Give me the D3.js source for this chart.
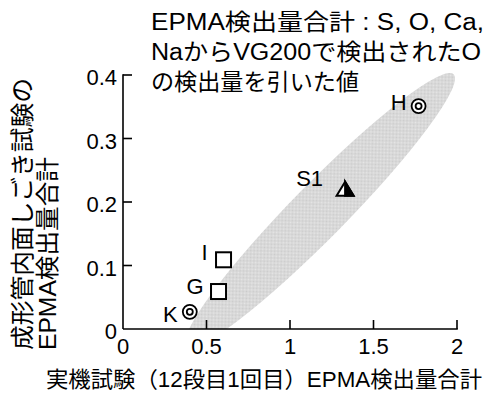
<!DOCTYPE html>
<html>
<head>
<meta charset="utf-8">
<script src="https://cdn.jsdelivr.net/npm/d3@7"></script>
<style>
  html, body { margin: 0; padding: 0; background: #fff; }
  svg { display: block; }
  text { font-family: "Liberation Sans", Arial, "Noto Sans CJK JP", sans-serif; fill: #000; }
</style>
</head>
<body>
<svg id="chart" width="487" height="396"></svg>
<script>
// Sample labels and their EPMA totals
const samples = ["K", "G", "I", "S1", "H"];
const xValues = [0.40, 0.572, 0.602, 1.33, 1.77];
const yValues = [0.027, 0.059, 0.109, 0.220, 0.351];
const markerTypes = ["dcircle", "square", "square", "halftri", "dcircle"];

// Axis ticks
const xTicks = [0, 0.5, 1, 1.5, 2];
const yTicks = [0, 0.1, 0.2, 0.3, 0.4];
const xTickLabels = ["0", "0.5", "1", "1.5", "2"];
const yTickLabels = ["0", "0.1", "0.2", "0.3", "0.4"];

// Correlation band: centre and upper tip of the ellipse (data units)
const bandCentre = [1.18, 0.187];
const bandTip = [1.98, 0.401];

// Texts
const noteLines = ["EPMA検出量合計 : S, O, Ca,", "NaからVG200で検出されたO", "の検出量を引いた値"];
const xTitle = "実機試験（12段目1回目）EPMA検出量合計";
const yTitleLines = ["成形管内面しごき試験の", "EPMA検出量合計"];

const svg = d3.select("#chart");
const plot = { left: 123, right: 457, top: 75, bottom: 329 };

const x = d3.scaleLinear().domain([0, 2]).range([plot.left, plot.right]);
const y = d3.scaleLinear().domain([0, 0.4]).range([plot.bottom, plot.top]);

// Dithered grey fill for the band
const defs = svg.append("defs");
const pat = defs.append("pattern").attr("id", "dither")
  .attr("width", 4).attr("height", 4).attr("patternUnits", "userSpaceOnUse");
pat.append("rect").attr("width", 4).attr("height", 4).attr("fill", "#e6e6e6");
[[0,0],[2,0],[1,1],[3,1],[0,2],[2,2],[1,3],[3,3]].forEach(([px, py]) => {
  pat.append("rect").attr("x", px).attr("y", py).attr("width", 1).attr("height", 1).attr("fill", "#cbcbcb");
});
defs.append("clipPath").attr("id", "plotClip")
  .append("rect").attr("x", plot.left).attr("y", 0)
  .attr("width", plot.right - plot.left + 30).attr("height", plot.bottom);

// Ellipse band
const cx = x(bandCentre[0]), cy = y(bandCentre[1]);
const tx = x(bandTip[0]), ty = y(bandTip[1]);
const semiMajor = Math.hypot(tx - cx, ty - cy);
const angle = Math.atan2(ty - cy, tx - cx) * 180 / Math.PI;
svg.append("g").attr("clip-path", "url(#plotClip)")
  .append("ellipse")
  .attr("cx", 0).attr("cy", 0)
  .attr("rx", semiMajor).attr("ry", 27)
  .attr("transform", `translate(${cx},${cy}) rotate(${angle})`)
  .attr("fill", "url(#dither)");

// Axes with inward ticks
const axisColor = "#000";
svg.append("line").attr("x1", plot.left).attr("x2", plot.right + 0.8)
  .attr("y1", plot.bottom).attr("y2", plot.bottom)
  .attr("stroke", axisColor).attr("stroke-width", 1.6);
svg.append("line").attr("x1", plot.left).attr("x2", plot.left)
  .attr("y1", plot.top - 0.8).attr("y2", plot.bottom)
  .attr("stroke", axisColor).attr("stroke-width", 1.6);

svg.append("g").selectAll("line").data(xTicks.filter(d => d > 0)).join("line")
  .attr("x1", d => x(d)).attr("x2", d => x(d))
  .attr("y1", plot.bottom).attr("y2", plot.bottom - 9)
  .attr("stroke", axisColor).attr("stroke-width", 1.6);
svg.append("g").selectAll("line").data(yTicks.filter(d => d > 0)).join("line")
  .attr("x1", plot.left).attr("x2", plot.left + 9)
  .attr("y1", d => y(d)).attr("y2", d => y(d))
  .attr("stroke", axisColor).attr("stroke-width", 1.6);

svg.append("g").selectAll("text").data(xTicks).join("text")
  .attr("x", d => x(d)).attr("y", plot.bottom + 25)
  .attr("text-anchor", "middle").attr("font-size", 22)
  .text((d, i) => xTickLabels[i]);
svg.append("g").selectAll("text").data(yTicks).join("text")
  .attr("x", plot.left - 6).attr("y", d => y(d) + 10)
  .attr("text-anchor", "end").attr("font-size", 22)
  .text((d, i) => yTickLabels[i]);

// Axis titles
svg.append("text").attr("x", 46).attr("y", 387)
  .attr("font-size", 22)
  .attr("textLength", 436).attr("lengthAdjust", "spacingAndGlyphs")
  .text(xTitle);
const yTitleLengths = [272, 193];
yTitleLines.forEach((t, i) => {
  svg.append("text")
    .attr("transform", `translate(${31 + i * 25},350) rotate(-90)`)
    .attr("font-size", 24)
    .attr("textLength", yTitleLengths[i]).attr("lengthAdjust", "spacingAndGlyphs")
    .text(t);
});

// Note block
const noteLengths = [333, 330, 208];
noteLines.forEach((t, i) => {
  svg.append("text").attr("x", 151).attr("y", 30 + i * 30)
    .attr("font-size", 23)
    .attr("textLength", noteLengths[i]).attr("lengthAdjust", "spacingAndGlyphs")
    .text(t);
});

// Markers
const pts = samples.map((s, i) => ({ name: s, x: xValues[i], y: yValues[i], type: markerTypes[i] }));
const mg = svg.append("g");
pts.forEach(p => {
  const px = x(p.x), py = y(p.y);
  if (p.type === "dcircle") {
    mg.append("circle").attr("cx", px).attr("cy", py).attr("r", 7)
      .attr("fill", "#fff").attr("stroke", "#000").attr("stroke-width", 1.8);
    mg.append("circle").attr("cx", px).attr("cy", py).attr("r", 3)
      .attr("fill", "#fff").attr("stroke", "#000").attr("stroke-width", 1.8);
  } else if (p.type === "square") {
    mg.append("rect").attr("x", px - 7.5).attr("y", py - 7.5)
      .attr("width", 15).attr("height", 15)
      .attr("fill", "#fff").attr("stroke", "#000").attr("stroke-width", 2);
  } else if (p.type === "halftri") {
    const h = 13, w = 17;
    const apex = [px, py - h / 2 - 1], bl = [px - w / 2, py + h / 2], br = [px + w / 2, py + h / 2];
    mg.append("path").attr("d", `M${apex}L${bl}L${br}Z`)
      .attr("fill", "#fff").attr("stroke", "#000").attr("stroke-width", 2);
    mg.append("path").attr("d", `M${apex}L${[px, br[1]]}L${br}Z`)
      .attr("fill", "#000").attr("stroke", "#000").attr("stroke-width", 2);
  }
});

// Sample labels placed to the left of each marker
const labelOffsets = { K: [-12, 10], G: [-15, 2], I: [-16, 0], S1: [-22, -3], H: [-12, 4] };
pts.forEach(p => {
  const [dx, dy] = labelOffsets[p.name];
  svg.append("text").attr("x", x(p.x) + dx).attr("y", y(p.y) + dy)
    .attr("text-anchor", "end").attr("font-size", 22).text(p.name);
});
</script>
</body>
</html>
